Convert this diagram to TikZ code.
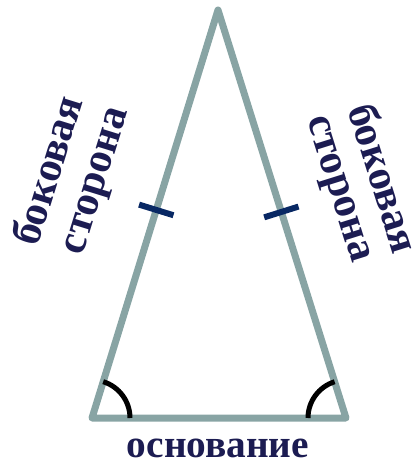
\documentclass[tikz,border=0pt]{standalone}
\usepackage{fontspec}
\setmainfont{Liberation Serif}
\usetikzlibrary{angles}
\definecolor{sidegray}{RGB}{136,164,164}
\definecolor{labelnavy}{RGB}{28,28,82}
\definecolor{marknavy}{RGB}{8,40,100}
\tikzset{
  side/.style={line width=5.25pt, draw=sidegray, line join=round, line cap=round},
  sidemark/.style={fill=marknavy, inner sep=0pt, minimum width=4.5pt, minimum height=27pt},
  anglearc/.style={draw, line width=3.75pt, angle radius=28.5pt},
  lbl/.style={text=labelnavy, font=\fontsize{29.5}{30}\selectfont\bfseries, inner sep=0pt},
  sidelbl/.style={lbl, font=\fontsize{32}{33}\selectfont\bfseries}
}
\begin{document}
\begin{tikzpicture}[x=0.75pt,y=0.75pt]
  \useasboundingbox (0,0) rectangle (415,462);
  \coordinate (A) at (92,44);
  \coordinate (B) at (346,44);
  \coordinate (C) at (218,452);
  \draw[side] (A) -- (B) -- (C) -- cycle;
  % equal sides
  \path (A) -- (C) node[sidemark, pos=0.51, sloped] (markL) {};
  \path (B) -- (C) node[sidemark, pos=0.505, sloped] (markR) {};
  % base angles
  \pic[anglearc] {angle=B--A--C};
  \pic[anglearc] {angle=C--B--A};
  \node[sidelbl, rotate=72.8] (sideL1) at (46,292) {боковая};
  \node[sidelbl, rotate=72.8] (sideL2) at (100,280) {сторона};
  \node[sidelbl, rotate=-72.6] (sideR1) at (335,272) {сторона};
  \node[sidelbl, rotate=-72.6] (sideR2) at (385,284) {боковая};
  \node[lbl, anchor=base] (base) at (218,5) {основание};
\end{tikzpicture}
\end{document}
